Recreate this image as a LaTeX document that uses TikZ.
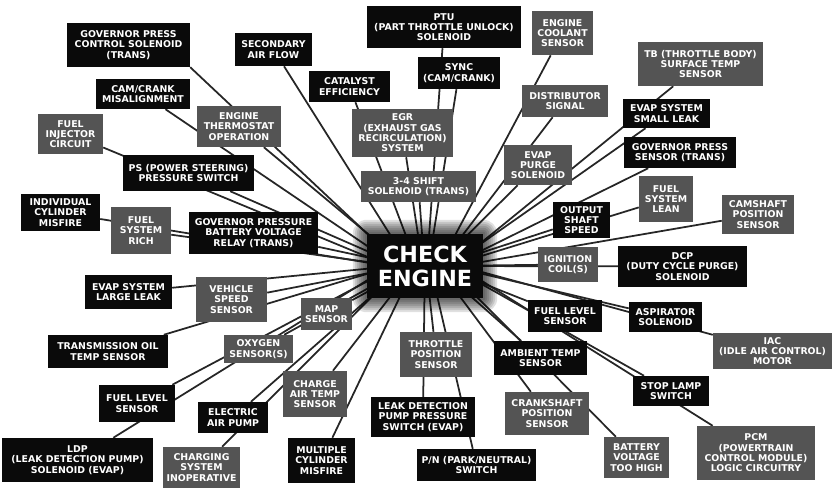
\documentclass[tikz,border=0pt]{standalone}
\usepackage{fontspec}
\setmainfont{DejaVu Sans}
\usepackage{tikz}
\usetikzlibrary{calc}
\pgfdeclarelayer{bg}
\pgfsetlayers{bg,main}
\definecolor{boxgray}{RGB}{84,84,84}
\definecolor{boxblack}{RGB}{10,10,10}
\definecolor{wirecol}{RGB}{38,38,38}
% one spoke from the lamp out to a box
\newcommand{\spoke}[1]{\draw[wire] let \p1=(#1), \p2=(check.center) in ({\x2+0.1*(\x1-\x2)},\y2) -- (#1);}

\begin{document}
\begin{tikzpicture}[x=0.3mm, y=-0.3mm,
  lbl/.style={inner sep=1pt, align=center, text=white, font=\fontsize{8}{8.8}\selectfont\bfseries},
  blk/.style={lbl, fill=boxblack},
  gry/.style={lbl, fill=boxgray},
  wh/.style 2 args={minimum width=#1*0.3mm, minimum height=#2*0.3mm},
  wire/.style={wirecol, line width=1.5pt},
  glow/.style={fill=black, opacity=0.12}]
\useasboundingbox (0,0) rectangle (833,488);
% centre
\node[blk, wh={116}{64}, font=\fontsize{19}{20.5}\selectfont\bfseries] (check) at (425,266) {CHECK\\ENGINE};
% top left
\node[blk, wh={123}{44}] (gpcs) at (128.5,45) {GOVERNOR PRESS\\CONTROL SOLENOID\\(TRANS)};
\node[blk, wh={94}{30}] (cam) at (143,94) {CAM/CRANK\\MISALIGNMENT};
\node[gry, wh={65}{40}] (finj) at (70.5,134) {FUEL\\INJECTOR\\CIRCUIT};
\node[gry, wh={84}{41}] (therm) at (239,126.5) {ENGINE\\THERMOSTAT\\OPERATION};
\node[blk, wh={131}{36}] (ps) at (188.5,173) {PS (POWER STEERING)\\PRESSURE SWITCH};
\node[blk, wh={77}{33}] (sec) at (273.5,49.5) {SECONDARY\\AIR FLOW};
\node[blk, wh={81}{31}] (cat) at (349.5,86.5) {CATALYST\\EFFICIENCY};
% top
\node[blk, wh={154}{42}] (ptu) at (444,27) {PTU\\(PART THROTTLE UNLOCK)\\SOLENOID};
\node[blk, wh={82}{32}] (sync) at (459,73) {SYNC\\(CAM/CRANK)};
\node[gry, wh={101}{48}] (egr) at (402.5,133) {EGR\\(EXHAUST GAS\\RECIRCULATION)\\SYSTEM};
\node[gry, wh={115}{31}] (shift) at (418.5,186.5) {3-4 SHIFT\\SOLENOID (TRANS)};
\node[gry, wh={61}{44}] (cool) at (562.5,33) {ENGINE\\COOLANT\\SENSOR};
\node[gry, wh={86}{32}] (dist) at (565,101) {DISTRIBUTOR\\SIGNAL};
\node[gry, wh={68}{40}] (purge) at (538,165) {EVAP\\PURGE\\SOLENOID};
% top right
\node[gry, wh={125}{44}] (tb) at (700.5,64) {TB (THROTTLE BODY)\\SURFACE TEMP\\SENSOR};
\node[blk, wh={87}{29}] (small) at (666.5,113.5) {EVAP SYSTEM\\SMALL LEAK};
\node[blk, wh={112}{31}] (gps) at (680,152.5) {GOVERNOR PRESS\\SENSOR (TRANS)};
\node[blk, wh={57}{36}] (oss) at (581.5,220) {OUTPUT\\SHAFT\\SPEED};
\node[gry, wh={54}{46}] (lean) at (666,199) {FUEL\\SYSTEM\\LEAN};
\node[gry, wh={72}{39}] (cams) at (758,214.5) {CAMSHAFT\\POSITION\\SENSOR};
% right
\node[gry, wh={60}{35}] (ign) at (568,264.5) {IGNITION\\COIL(S)};
\node[blk, wh={129}{41}] (dcp) at (682.5,266.5) {DCP\\(DUTY CYCLE PURGE)\\SOLENOID};
\node[blk, wh={74}{32}] (flr) at (565,316) {FUEL LEVEL\\SENSOR};
\node[blk, wh={73}{30}] (asp) at (665.5,317) {ASPIRATOR\\SOLENOID};
\node[gry, wh={119}{36}] (iac) at (772.5,351) {IAC\\(IDLE AIR CONTROL)\\MOTOR};
% bottom right
\node[blk, wh={93}{34}] (amb) at (540.5,358) {AMBIENT TEMP\\SENSOR};
\node[blk, wh={76}{30}] (stop) at (671,391) {STOP LAMP\\SWITCH};
\node[gry, wh={84}{43}] (crank) at (547,413.5) {CRANKSHAFT\\POSITION\\SENSOR};
\node[gry, wh={65}{41}] (batt) at (636.5,457.5) {BATTERY\\VOLTAGE\\TOO HIGH};
\node[gry, wh={118}{54}] (pcm) at (756,453) {PCM\\(POWERTRAIN\\CONTROL MODULE)\\LOGIC CIRCUITRY};
% bottom
\node[gry, wh={72}{45}] (tps) at (436,354.5) {THROTTLE\\POSITION\\SENSOR};
\node[blk, wh={104}{40}] (ldps) at (423,417) {LEAK DETECTION\\PUMP PRESSURE\\SWITCH (EVAP)};
\node[blk, wh={119}{32}] (pn) at (476.5,465) {P/N (PARK/NEUTRAL)\\SWITCH};
\node[blk, wh={67}{45}] (mcm) at (321.5,460.5) {MULTIPLE\\CYLINDER\\MISFIRE};
\node[gry, wh={64}{46}] (cat2) at (315,394) {CHARGE\\AIR TEMP\\SENSOR};
\node[gry, wh={51}{32}] (map) at (326.5,314) {MAP\\SENSOR};
\node[gry, wh={69}{28}] (oxy) at (258.5,349) {OXYGEN\\SENSOR(S)};
% left
\node[blk, wh={79}{37}] (icm) at (60.5,212.5) {INDIVIDUAL\\CYLINDER\\MISFIRE};
\node[gry, wh={60}{47}] (rich) at (141,230.5) {FUEL\\SYSTEM\\RICH};
\node[blk, wh={129}{42}] (gpb) at (253.5,233) {GOVERNOR PRESSURE\\BATTERY VOLTAGE\\RELAY (TRANS)};
\node[blk, wh={87}{34}] (large) at (128.5,292) {EVAP SYSTEM\\LARGE LEAK};
\node[gry, wh={71}{45}] (vss) at (231.5,299.5) {VEHICLE\\SPEED\\SENSOR};
% bottom left
\node[blk, wh={120}{33}] (toil) at (108,351.5) {TRANSMISSION OIL\\TEMP SENSOR};
\node[blk, wh={76}{37}] (fll) at (137,403.5) {FUEL LEVEL\\SENSOR};
\node[blk, wh={70}{31}] (pump) at (233,417.5) {ELECTRIC\\AIR PUMP};
\node[blk, wh={151}{44}] (ldp) at (77.5,460) {LDP\\(LEAK DETECTION PUMP)\\SOLENOID (EVAP)};
\node[gry, wh={77}{41}] (chg) at (201.5,467.5) {CHARGING\\SYSTEM\\INOPERATIVE};
% spokes
\begin{pgfonlayer}{bg}
\spoke{gpcs.south east} \spoke{cam} \spoke{finj} \spoke{therm} \spoke{ps} \spoke{sec} \spoke{cat}
\spoke{ptu} \spoke{sync} \spoke{egr} \spoke{shift} \spoke{cool} \spoke{dist} \spoke{purge}
\spoke{tb} \spoke{small} \spoke{gps} \spoke{oss} \spoke{lean} \spoke{cams}
\spoke{ign} \spoke{dcp} \spoke{flr} \spoke{asp} \spoke{iac}
\spoke{amb} \spoke{stop} \spoke{crank} \spoke{batt} \spoke{pcm}
\spoke{tps} \spoke{ldps} \spoke{pn} \spoke{mcm} \spoke{cat2} \spoke{map} \spoke{oxy}
\spoke{icm} \spoke{rich} \spoke{gpb} \spoke{large} \spoke{vss}
\spoke{toil} \spoke{fll} \spoke{pump} \spoke{ldp} \spoke{chg}
% halo
\foreach \g in {2,4,...,14}
  \fill[glow, rounded corners=\g*0.3mm] ([shift={(-\g,-\g)}]check.north west) rectangle ([shift={(\g,\g)}]check.south east);
\end{pgfonlayer}
\end{tikzpicture}
\end{document}
